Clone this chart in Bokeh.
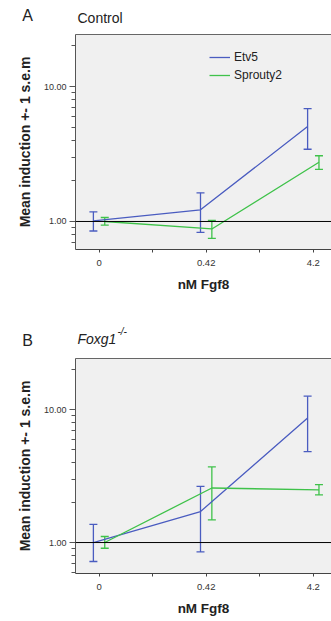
from bokeh.plotting import figure
from bokeh.models import (ColumnDataSource, Whisker, TeeHead, Span, Legend, LegendItem,
                          FixedTicker, PrintfTickFormatter, LinearAxis, Range1d)
from bokeh.core.properties import value
from bokeh.layouts import column
from bokeh.embed import file_html
from bokeh.resources import INLINE

# ---- data ----
doses = ["0", "0.42", "4.2"]
series_names = ["Etv5", "Sprouty2"]

etv5_mean_a = [1.01, 1.22, 5.05]
etv5_lo_a = [0.85, 0.83, 3.43]
etv5_hi_a = [1.18, 1.63, 6.87]
spry_mean_a = [1.00, 0.88, 2.75]
spry_lo_a = [0.94, 0.75, 2.43]
spry_hi_a = [1.07, 1.02, 3.07]

etv5_mean_b = [1.00, 1.71, 8.65]
etv5_lo_b = [0.72, 0.85, 4.83]
etv5_hi_b = [1.37, 2.64, 12.6]
spry_mean_b = [1.00, 2.57, 2.49]
spry_lo_b = [0.906, 1.48, 2.28]
spry_hi_b = [1.11, 3.70, 2.73]

y_major = [1, 10]
y_minor = [0.6, 0.7, 0.8, 0.9, 2, 3, 4, 5, 6, 7, 8, 9, 20]

BLUE = "#4a5cc0"
GREEN = "#3fc24a"
FONT = "Liberation Sans"
W = 331


def make_header(height, texts):
    h = figure(width=W, height=height, x_range=Range1d(0, W), y_range=Range1d(0, height),
               x_axis_location=None, y_axis_location=None,
               output_backend="svg", toolbar_location=None, min_border=0)
    h.frame_align = False
    h.grid.visible = False
    h.outline_line_color = None
    h.background_fill_color = "white"
    for (x, y_from_top, txt, size, style, align) in texts:
        h.text(x=[x], y=[height - y_from_top], text=[txt], text_font=value(FONT),
               text_font_size=value(size), text_font_style=value(style),
               text_align=value(align), text_baseline=value("middle"),
               text_color="#222222")
    return h


def make_panel(height, bottom, ylo, yhi, series, legend):
    p = figure(width=W, height=height, y_axis_type="log",
               x_range=Range1d(-0.22, 2.17), y_range=Range1d(ylo, yhi),
               output_backend="svg", toolbar_location=None,
               min_border_left=75, min_border_right=0,
               min_border_top=0, min_border_bottom=bottom)
    p.frame_align = False
    p.background_fill_color = "#f0f0f0"
    p.border_fill_color = "white"
    p.outline_line_color = None
    p.grid.visible = False

    # x axis
    xa = p.xaxis[0]
    xa.ticker = FixedTicker(ticks=[0, 1, 2], minor_ticks=[0.5, 1.5])
    xa.major_label_overrides = {i: d for i, d in enumerate(doses)}
    xa.major_tick_out = 3
    xa.major_tick_in = 0
    xa.minor_tick_out = 3
    xa.minor_tick_in = 0
    xa.major_label_standoff = 7
    xa.major_label_text_font = FONT
    xa.major_label_text_font_size = "9.5px"
    xa.major_label_text_color = "#333333"
    xa.axis_label = "nM Fgf8"
    xa.axis_label_text_font = FONT
    xa.axis_label_text_font_style = "bold"
    xa.axis_label_text_font_size = "13.5px"
    xa.axis_label_text_color = "#222222"
    xa.axis_label_standoff = 8
    xa.axis_line_color = "#444444"
    xa.major_tick_line_color = "#444444"
    xa.minor_tick_line_color = "#444444"

    # y axis
    ya = p.yaxis[0]
    ya.ticker = FixedTicker(ticks=y_major, minor_ticks=y_minor)
    ya.formatter = PrintfTickFormatter(format="%.2f")
    ya.major_tick_out = 6
    ya.major_tick_in = 0
    ya.minor_tick_out = 4
    ya.minor_tick_in = 0
    ya.major_label_standoff = 3
    ya.major_label_text_font = FONT
    ya.major_label_text_font_size = "9px"
    ya.major_label_text_color = "#333333"
    ya.axis_label = "Mean induction +- 1 s.e.m"
    ya.axis_label_text_font = FONT
    ya.axis_label_text_font_style = "bold"
    ya.axis_label_text_font_size = "14px"
    ya.axis_label_text_color = "#222222"
    ya.axis_label_standoff = 8
    ya.axis_line_color = "#555555"
    ya.major_tick_line_color = "#555555"
    ya.minor_tick_line_color = "#555555"

    # top border
    top_ax = LinearAxis(major_tick_out=0, major_tick_in=0, minor_tick_out=0, minor_tick_in=0,
                        major_label_text_font_size="0px", axis_line_color="#666666",
                        major_label_standoff=0, axis_label_standoff=0,
                        ticker=FixedTicker(ticks=[]))
    p.add_layout(top_ax, "above")

    p.add_layout(Span(location=1, dimension="width", line_color="black", line_width=1))

    items = []
    for name, (mean, lo, hi), color, off in series:
        xs = [i + off for i in range(len(doses))]
        src = ColumnDataSource(dict(x=xs, m=mean, lo=lo, hi=hi))
        r = p.line("x", "m", source=src, line_color=color, line_width=1.3)
        w = Whisker(base="x", upper="hi", lower="lo", source=src, dimension="height",
                    line_color=color, line_width=1.3,
                    upper_head=TeeHead(size=8, line_color=color, line_width=1.3),
                    lower_head=TeeHead(size=8, line_color=color, line_width=1.3))
        p.add_layout(w)
        items.append(LegendItem(label=name, renderers=[r]))

    if legend:
        leg = Legend(items=items, location=(134, 165), orientation="vertical",
                     glyph_width=21, glyph_height=18, label_height=18, label_standoff=4,
                     spacing=0, padding=0, margin=0, border_line_color=None,
                     background_fill_alpha=0, label_text_font=FONT,
                     label_text_font_size="12px", label_text_color="#222222")
        p.add_layout(leg)
    return p


OFF = 0.053
hA = make_header(34, [(27, 15, "A", "16px", "normal", "center"),
                      (77, 17, "Control", "14px", "normal", "left")])
pA = make_panel(276, 61, 0.62, 24.3,
                [(series_names[0], (etv5_mean_a, etv5_lo_a, etv5_hi_a), BLUE, -OFF),
                 (series_names[1], (spry_mean_a, spry_lo_a, spry_hi_a), GREEN, OFF)], True)

hB = make_header(48, [(27, 30, "B", "16px", "normal", "center"),
                      (77, 28, "Foxg1", "14px", "italic", "left"),
                      (117, 21, "-/-", "10px", "italic", "left")])
pB = make_panel(263, 48, 0.585, 24.2,
                [(series_names[0], (etv5_mean_b, etv5_lo_b, etv5_hi_b), BLUE, -OFF),
                 (series_names[1], (spry_mean_b, spry_lo_b, spry_hi_b), GREEN, OFF)], False)

layout = column(hA, pA, hB, pB, spacing=0)
open("out.html", "w").write(file_html(layout, INLINE))
